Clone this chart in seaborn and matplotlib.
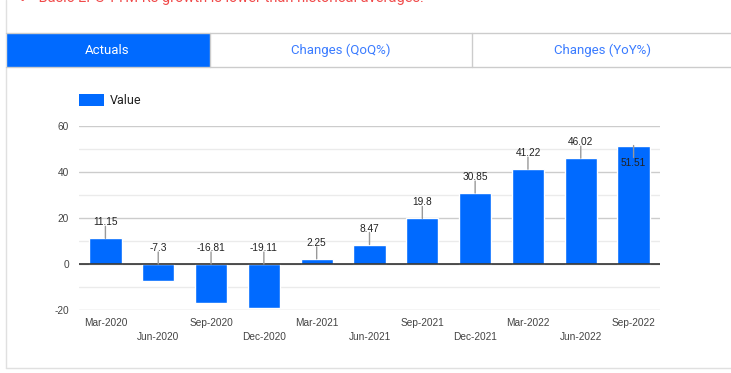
import numpy as np
import pandas as pd
import matplotlib
matplotlib.use('Agg')
import matplotlib.pyplot as plt
from matplotlib.patches import Rectangle
from matplotlib.lines import Line2D
import seaborn as sns

# chart data
quarters = ['Mar-2020', 'Jun-2020', 'Sep-2020', 'Dec-2020', 'Mar-2021', 'Jun-2021',
            'Sep-2021', 'Dec-2021', 'Mar-2022', 'Jun-2022', 'Sep-2022']
values = [11.15, -7.3, -16.81, -19.11, 2.25, 8.47, 19.8, 30.85, 41.22, 46.02, 51.51]
tabs = ['Actuals', 'Changes (QoQ%)', 'Changes (YoY%)']
y_ticks = [-20, 0, 20, 40, 60]
headline = '\u2714  Basic EPS TTM Rs growth is lower than historical averages.'

BLUE = '#006aff'
W, H = 731, 373


def fx(x):
    return x / W


def fy(y):
    return 1 - y / H


def px(n):
    # pixels -> points at dpi 100
    return n * 0.72


sns.set_theme(style='white')
plt.rcParams['font.family'] = ['Liberation Sans', 'DejaVu Sans']
plt.rcParams['axes.unicode_minus'] = False

fig = plt.figure(figsize=(W / 100, H / 100), dpi=100)

# page frame: left border and bottom border
fig.add_artist(Line2D([fx(6), fx(6)], [fy(0), fy(368)], color='#e0e0e0', lw=1))
fig.add_artist(Line2D([fx(6), fx(731)], [fy(368), fy(368)], color='#e0e0e0', lw=1))

# headline, clipped at the very top like the page it came from
fig.text(fx(19), fy(2), headline, color='#f04a4a', fontsize=10.5,
         family=['Roboto', 'DejaVu Sans'], va='baseline', ha='left')

# tab bar
fig.add_artist(Rectangle((fx(6), fy(67)), fx(210) - fx(6), fy(33) - fy(67),
                         transform=fig.transFigure, facecolor=BLUE, edgecolor='none'))
fig.add_artist(Line2D([fx(6), fx(731)], [fy(33), fy(33)], color='#cccccc', lw=1))
fig.add_artist(Line2D([fx(6), fx(731)], [fy(67), fy(67)], color='#cccccc', lw=1))
for xb in (210, 472):
    fig.add_artist(Line2D([fx(xb), fx(xb)], [fy(33), fy(67)], color='#cccccc', lw=1))
tab_centers = [107, 341, 602]
for name, cx, col in zip(tabs, tab_centers, ['white', '#3b7cff', '#3b7cff']):
    fig.text(fx(cx), fy(50), name, color=col, fontsize=9.5,
             family=['Roboto', 'DejaVu Sans'], ha='center', va='center')

# legend
fig.add_artist(Rectangle((fx(79), fy(106)), fx(104) - fx(79), fy(94) - fy(106),
                         transform=fig.transFigure, facecolor=BLUE, edgecolor='none'))
fig.text(fx(110), fy(100), 'Value', fontsize=9, color='#222222',
         family=['Roboto', 'DejaVu Sans'], ha='left', va='center')

# chart area
ax = fig.add_axes([fx(79), fy(310), fx(660) - fx(79), fy(126) - fy(310)])
df = pd.DataFrame({'quarter': quarters, 'value': values})
sns.barplot(data=df, x='quarter', y='value', color=BLUE, saturation=1,
            width=0.61, ax=ax, zorder=3)

ax.set_xlim(-0.5, len(quarters) - 0.5)
ax.set_ylim(-20, 60)
ax.set_yticks(y_ticks)
ax.set_yticks(np.arange(-10, 60, 20), minor=True)
ax.yaxis.grid(True, which='major', color='#cccccc', lw=1)
ax.yaxis.grid(True, which='minor', color='#ebebeb', lw=1)
ax.set_axisbelow(True)
ax.axhline(0, color='#333333', lw=1.2, zorder=4)
for s in ax.spines.values():
    s.set_visible(False)
ax.set_xlabel('')
ax.set_ylabel('')
ax.tick_params(axis='both', which='both', length=0, labelsize=7.3, labelcolor='#444444')
ax.tick_params(axis='y', pad=px(10))
for i, t in enumerate(ax.xaxis.get_major_ticks()):
    t.set_pad(px(8) if i % 2 == 0 else px(22))

# value annotations with little stems
for i, v in enumerate(values):
    label = f'{v:g}'
    if i == len(values) - 1:
        base, stem, off = v, -12, -17
    else:
        base, stem, off = max(v, 0), 12, 16
    ax.annotate('', xy=(i, base), xytext=(0, px(stem)), textcoords='offset points',
                arrowprops=dict(arrowstyle='-', color='#999999', lw=1,
                                shrinkA=0, shrinkB=0), zorder=5)
    ax.annotate(label, xy=(i, base), xytext=(0, px(off)), textcoords='offset points',
                ha='center', va='center', fontsize=7.3, color='#222222', zorder=6)

fig.savefig('out.png', dpi=100)
